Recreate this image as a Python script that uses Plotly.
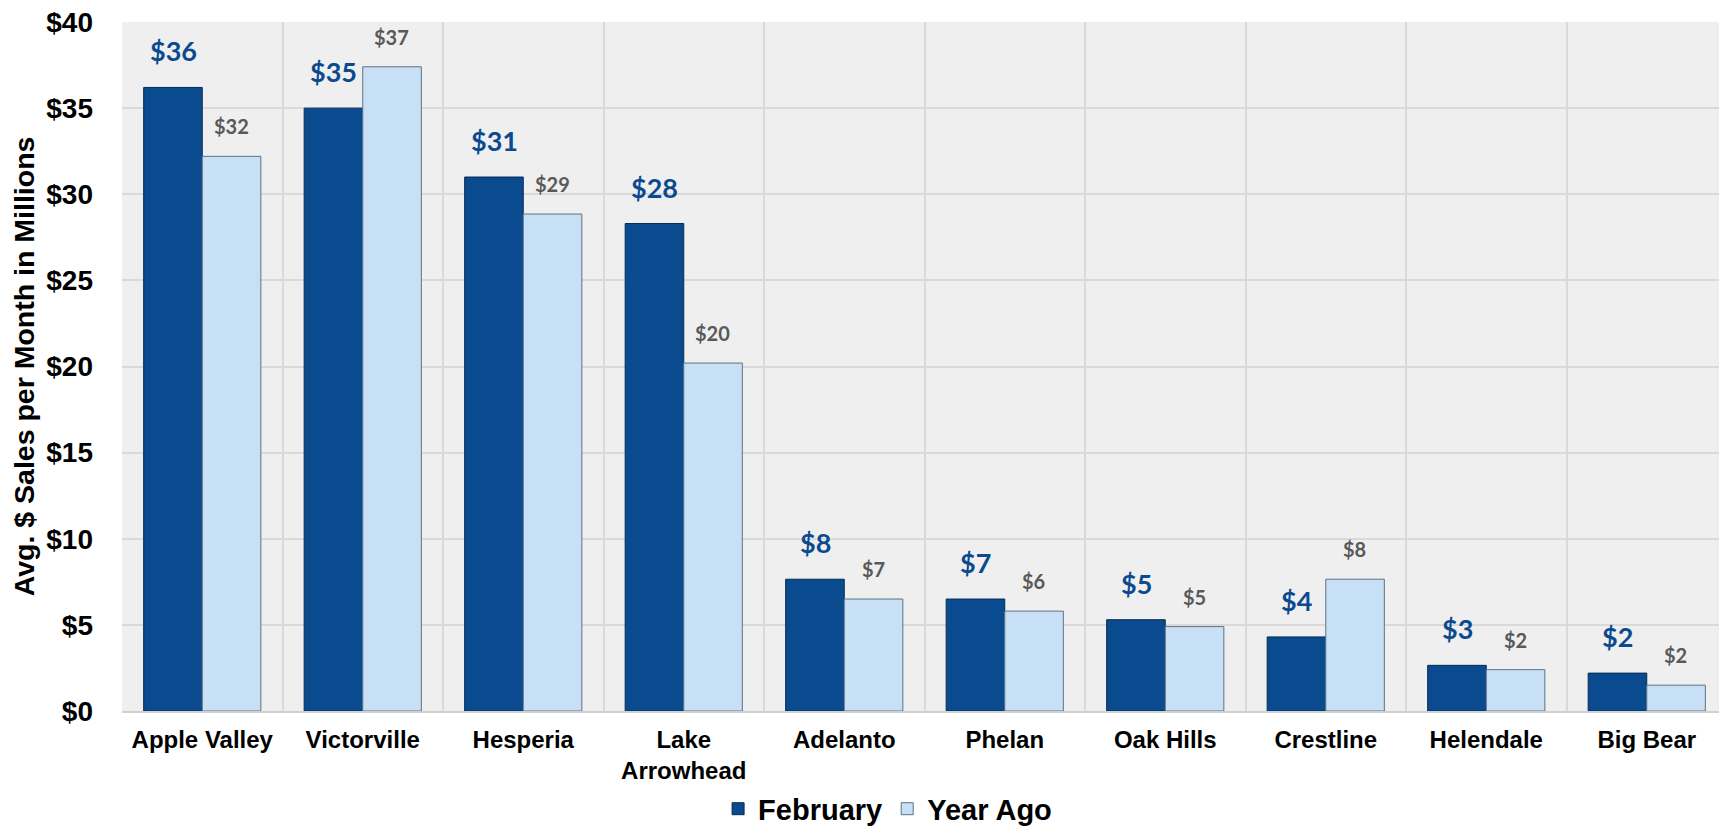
"""Avg. monthly sales by community: February vs year ago."""
import math

import plotly.graph_objects as go

CITIES = ["Apple Valley", "Victorville", "Hesperia", "Lake<br>Arrowhead", "Adelanto",
          "Phelan", "Oak Hills", "Crestline", "Helendale", "Big Bear"]
FEBRUARY = [36.2, 35.0, 31.0, 28.3, 7.65, 6.5, 5.3, 4.3, 2.65, 2.2]
YEAR_AGO = [32.2, 37.4, 28.85, 20.2, 6.5, 5.8, 4.9, 7.65, 2.4, 1.5]
Y_TICKS = [0, 5, 10, 15, 20, 25, 30, 35, 40]

DARK = "#0A4A8E"
LIGHT = "#C7E0F6"
AXIS_FONT = "Liberation Sans, Arial, sans-serif"
LABEL_FONT = "Lato, Open Sans, sans-serif"


def money(v: float) -> str:
    return f"${math.floor(v + 0.5)}"


fig = go.Figure()
fig.add_trace(go.Bar(
    x=CITIES, y=FEBRUARY, name="February",
    marker=dict(color=DARK, line=dict(color="#062C55", width=1)),
))
fig.add_trace(go.Bar(
    x=CITIES, y=YEAR_AGO, name="Year Ago",
    marker=dict(color=LIGHT, line=dict(color="#5E7286", width=1)),
))

annotations = []
for city, feb, ago in zip(CITIES, FEBRUARY, YEAR_AGO):
    annotations.append(dict(
        x=city, y=feb, text=money(feb), showarrow=False, xshift=-29, yshift=18,
        yanchor="bottom", font=dict(family=LABEL_FONT, size=27, color="#0B4A8F", weight="bold"),
    ))
    annotations.append(dict(
        x=city, y=ago, text=money(ago), showarrow=False, xshift=29, yshift=16,
        yanchor="bottom", font=dict(family=LABEL_FONT, size=20, color="#595959", weight="bold"),
    ))

# the page body adds an 8px offset, so the figure is trimmed to end at the window edge
fig.update_layout(
    width=1719, height=826,
    margin=dict(l=114, r=0, t=14, b=123, autoexpand=False),
    paper_bgcolor="white", plot_bgcolor="#EFEFEF",
    barmode="group", bargap=0.27, bargroupgap=0,
    annotations=annotations,
    showlegend=True,
    legend=dict(
        orientation="h", x=0.477, xanchor="center", y=-0.105, yanchor="top",
        font=dict(family=AXIS_FONT, size=29, color="black", weight="bold"),
        itemwidth=30, traceorder="normal",
    ),
)
fig.update_yaxes(
    range=[0, 40], tickvals=Y_TICKS, ticktext=[f"${t}" for t in Y_TICKS],
    gridcolor="#D9D9D9", gridwidth=2, zeroline=False, ticklabelstandoff=28,
    automargin=False, ticklabeloverflow="allow",
    tickfont=dict(family=AXIS_FONT, size=28, color="black", weight="bold"),
    title=dict(text="Avg. $ Sales per Month in Millions", standoff=13,
               font=dict(family=AXIS_FONT, size=28.5, color="black", weight="bold")),
)
fig.update_xaxes(
    tickson="boundaries", showgrid=True, gridcolor="#D9D9D9", gridwidth=2,
    showline=True, linecolor="#D0D0D0", linewidth=2, ticks="", ticklabelstandoff=6,
    automargin=False,
    tickfont=dict(family=AXIS_FONT, size=24, color="black", weight="bold"),
)

fig.write_html("out.html")
